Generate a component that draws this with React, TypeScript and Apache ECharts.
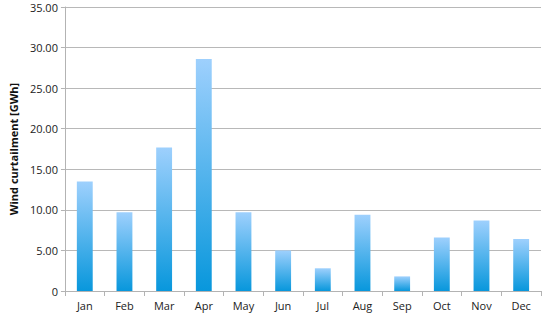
import React, { useEffect, useRef } from "react";
import * as echarts from "echarts";

const categories = ["Jan", "Feb", "Mar", "Apr", "May", "Jun", "Jul", "Aug", "Sep", "Oct", "Nov", "Dec"];
const curtailment = [13.5, 9.7, 17.7, 28.6, 9.7, 5.0, 2.8, 9.4, 1.8, 6.6, 8.7, 6.4];
const yTickLabels = ["0", "5.00", "10.00", "15.00", "20.00", "25.00", "30.00", "35.00"];

export default function App() {
  const ref = useRef<HTMLDivElement>(null);
  useEffect(() => {
    document.body.style.margin = "0";
    const chart = echarts.init(ref.current!, null, { renderer: "svg" });
    chart.setOption({
      animation: false,
      backgroundColor: "#ffffff",
      grid: { left: 61, right: 9, top: 7, bottom: 29, containLabel: false },
      xAxis: {
        type: "category",
        data: categories,
        axisLine: { show: true, lineStyle: { color: "#b3b3b3", width: 1 } },
        axisTick: { show: true, alignWithLabel: false, length: 5, lineStyle: { color: "#b3b3b3" } },
        axisLabel: { color: "#222", fontFamily: "Open Sans", fontSize: 11, margin: 9 },
      },
      yAxis: {
        type: "value",
        min: 0,
        max: 35,
        interval: 5,
        name: "Wind curtailment [GWh]",
        nameLocation: "middle",
        nameGap: 44,
        nameTextStyle: { color: "#111", fontFamily: "Open Sans", fontSize: 11, fontWeight: "bold" },
        axisLine: { show: true, lineStyle: { color: "#b3b3b3", width: 1 } },
        axisTick: { show: true, length: 4, lineStyle: { color: "#b3b3b3" } },
        axisLabel: {
          color: "#222",
          fontFamily: "Open Sans",
          fontSize: 11,
          margin: 7,
          formatter: (v: number) => yTickLabels[Math.round(v / 5)] ?? "",
        },
        splitLine: { show: true, lineStyle: { color: "#b8b8b8", width: 1 } },
      },
      series: [
        {
          type: "bar",
          data: curtailment,
          barWidth: "40%",
          itemStyle: {
            color: new echarts.graphic.LinearGradient(0, 0, 0, 1, [
              { offset: 0, color: "#9ed0fd" },
              { offset: 1, color: "#0897dc" },
            ]),
          },
        },
      ],
    });
    return () => chart.dispose();
  }, []);
  return <div ref={ref} style={{ width: 550, height: 320 }} />;
}
